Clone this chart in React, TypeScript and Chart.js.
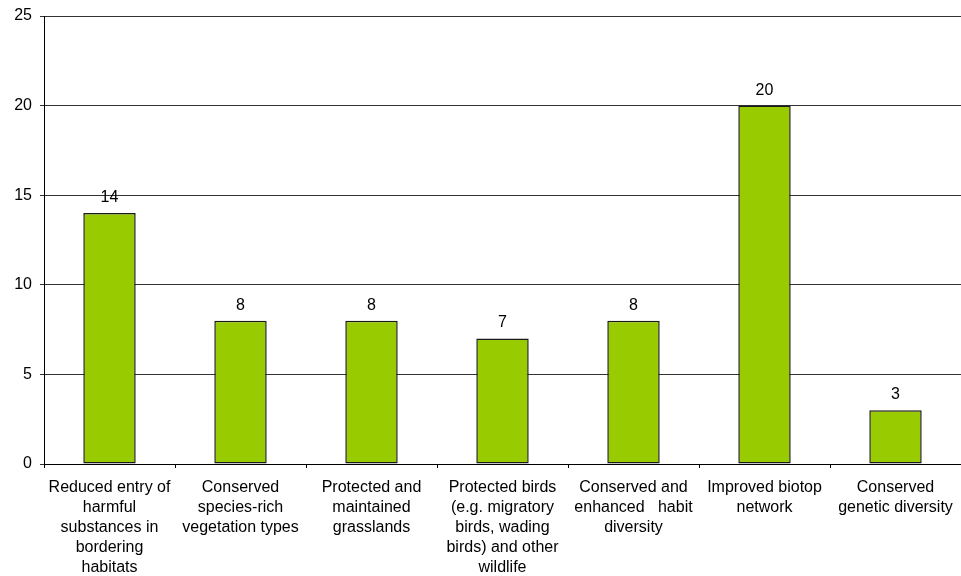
import React, { useEffect, useRef } from "react";
import { Chart, registerables } from "chart.js";

Chart.register(...registerables);

const categories: string[][] = [
  ["Reduced entry of", "harmful", "substances in", "bordering", "habitats"],
  ["Conserved", "species-rich", "vegetation types"],
  ["Protected and", "maintained", "grasslands"],
  ["Protected birds", "(e.g. migratory", "birds, wading", "birds) and other", "wildlife"],
  ["Conserved and", "enhanced   habit", "diversity"],
  ["Improved biotop", "network"],
  ["Conserved", "genetic diversity"],
];
const values: number[] = [14, 8, 8, 7, 8, 20, 3];
const yTicks: number[] = [0, 5, 10, 15, 20, 25];

const FONT = "'Liberation Sans', Arial, sans-serif";

const valueLabels = {
  id: "valueLabels",
  afterDatasetsDraw(chart: any) {
    const ctx = chart.ctx;
    const meta = chart.getDatasetMeta(0);
    ctx.save();
    ctx.font = `16px ${FONT}`;
    ctx.fillStyle = "#000";
    ctx.textAlign = "center";
    ctx.textBaseline = "middle";
    meta.data.forEach((bar: any, i: number) => {
      ctx.fillText(String(values[i]), bar.x, bar.y - 15.5);
    });
    ctx.restore();
  },
};

export default function App() {
  const ref = useRef<HTMLCanvasElement | null>(null);
  useEffect(() => {
    document.body.style.margin = "0";
    const chart = new Chart(ref.current!, {
      type: "bar",
      data: {
        labels: categories,
        datasets: [
          {
            data: values,
            backgroundColor: "#99CC00",
            borderColor: "#1a1a1a",
            borderWidth: 1.5,
            borderSkipped: false,
            barPercentage: 0.4,
            categoryPercentage: 1,
          },
        ],
      },
      options: {
        animation: false,
        responsive: false,
        layout: { padding: { top: 16, right: 0, left: 0, bottom: 0 } },
        plugins: { legend: { display: false }, tooltip: { enabled: false } },
        scales: {
          x: {
            grid: { drawOnChartArea: false, color: "#000", tickLength: 4 },
            border: { color: "#000" },
            ticks: {
              color: "#000",
              font: { family: FONT, size: 16, lineHeight: 1.25 },
              padding: 10,
              maxRotation: 0,
              autoSkip: false,
            },
            afterFit: (s: any) => {
              s.height = 112;
              s.paddingLeft = 0;
              s.paddingRight = 0;
            },
          },
          y: {
            min: 0,
            max: 25,
            afterBuildTicks: (s: any) => {
              s.ticks = yTicks.map((v) => ({ value: v }));
            },
            grid: { color: "#333", tickLength: 4 },
            border: { color: "#000" },
            ticks: {
              color: "#000",
              font: { family: FONT, size: 16 },
              padding: 8,
            },
            afterFit: (s: any) => {
              s.width = 44;
              s.paddingTop = 0;
              s.paddingBottom = 0;
            },
          },
        },
      },
      plugins: [valueLabels],
    });
    return () => chart.destroy();
  }, []);
  return (
    <div style={{ width: 961, height: 576 }}>
      <canvas ref={ref} width={961} height={576} style={{ display: "block" }} />
    </div>
  );
}
